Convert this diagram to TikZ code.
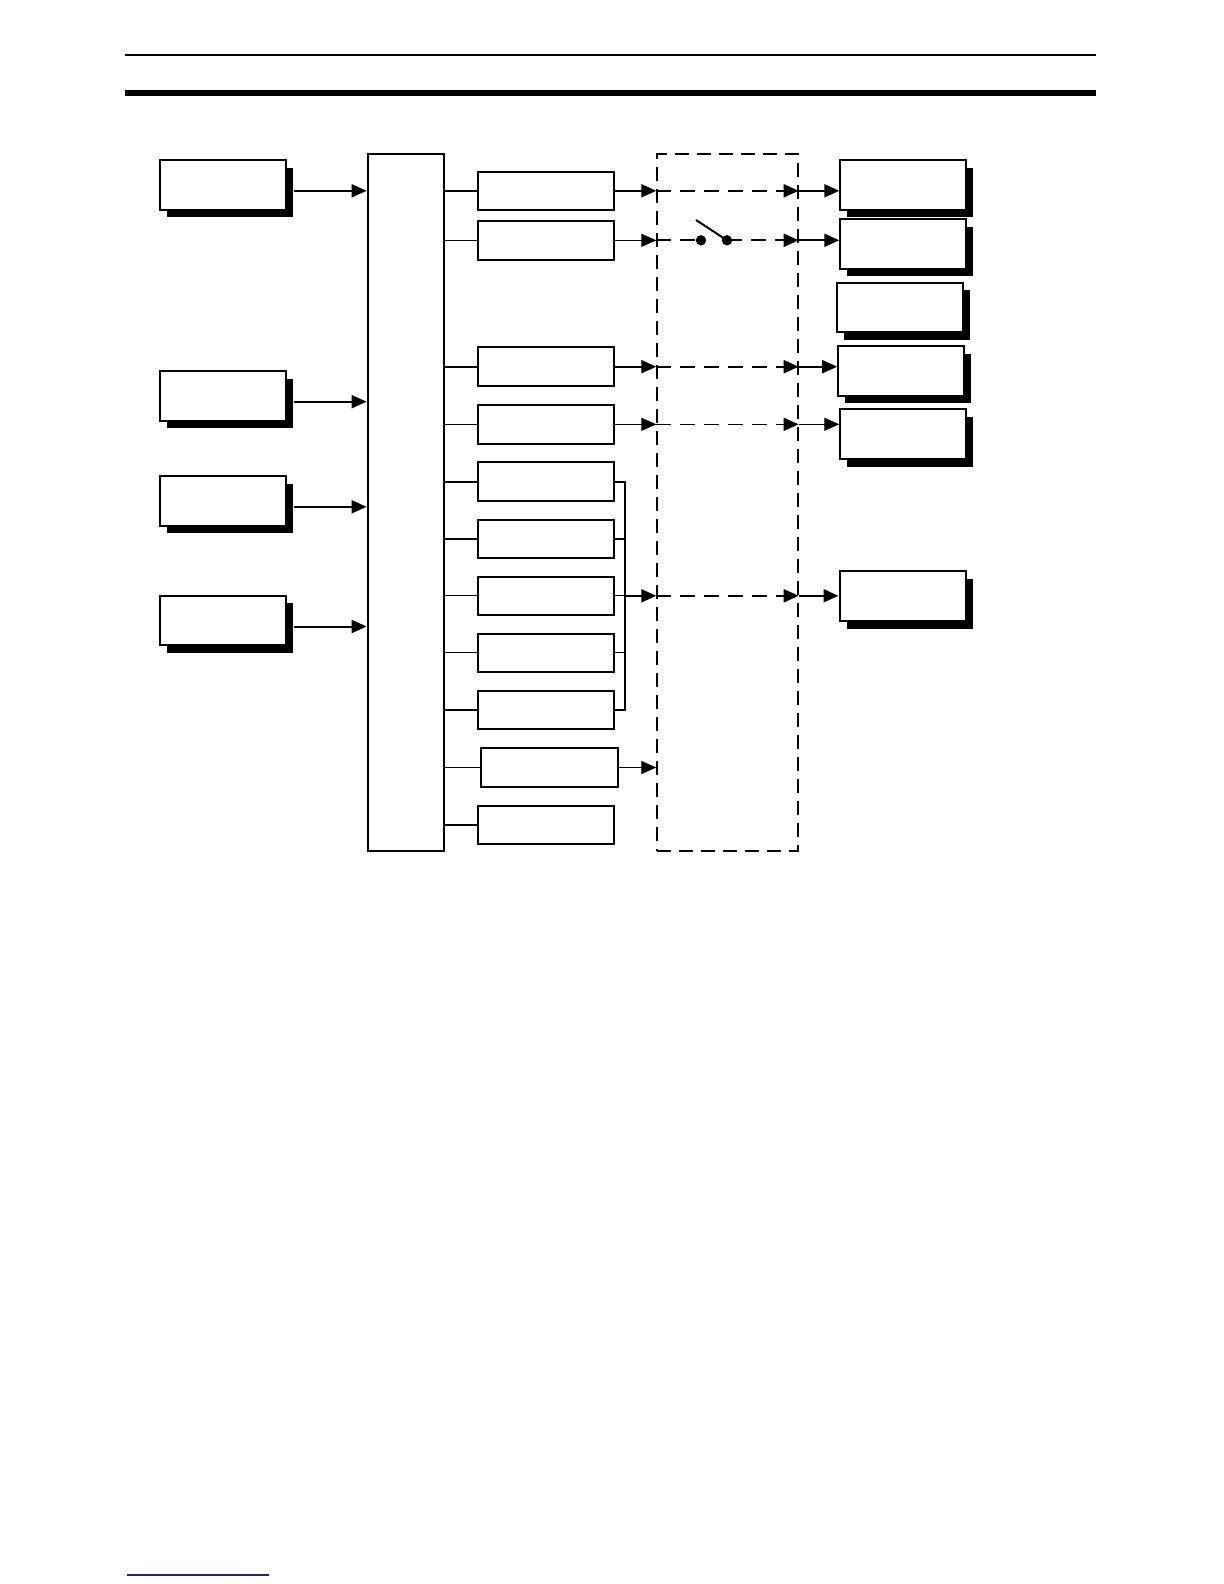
\documentclass[tikz,border=0pt]{standalone}
\usetikzlibrary{arrows.meta,shadows,calc}

\definecolor{rulebl}{RGB}{35,35,140}

\tikzstyle{shadowbox} = [rectangle, draw, fill=white, line width=1pt, inner sep=0pt, minimum width=63pt, minimum height=24.8pt, drop shadow={shadow xshift=3.5pt, shadow yshift=-3.8pt, fill=black, opacity=1}]
\tikzstyle{unit} = [rectangle, draw, line width=1pt, inner sep=0pt, minimum width=68.2pt, minimum height=19.3pt]
\tikzstyle{busbar} = [rectangle, draw, line width=1pt, inner sep=0pt, minimum width=38.2pt, minimum height=348.2pt]
\tikzstyle{isolbox} = [rectangle, draw, line width=1pt, dash pattern=on 7pt off 4pt, inner sep=0pt, minimum width=70.2pt, minimum height=348.2pt]
\tikzstyle{wire} = [line width=1pt]
\tikzstyle{thinwire} = [line width=0.6pt]
\tikzstyle{dashlink} = [dash pattern=on 7.5pt off 4.5pt]

\begin{document}
\begin{tikzpicture}[x=0.5pt, y=-0.5pt]
        \tikzset{>={Triangle[length=7.5pt,width=6.5pt]}}
        \useasboundingbox (0,0) rectangle (1224,1584);
        % page rules
        \draw[line width=1pt] (125,55) -- (1096,55);
        \draw[line width=2.9pt] (125,93) -- (1096,93);
        \draw[rulebl, line width=0.8pt] (127,1575) -- (269,1575);

        % inputs
        \node (l1) at (222.5,184.8) [shadowbox] {};
        \node (l2) at (222.5,395.7) [shadowbox] {};
        \node (l3) at (222.5,500.8) [shadowbox] {};
        \node (l4) at (222.5,620.5) [shadowbox] {};

        % bus
        \node (bus) at (405.8,502.5) [busbar] {};

        % units on the bus
        \node (m1) at (545.8,190.8) [unit] {};
        \node (m2) at (545.8,240.3) [unit] {};
        \node (m3) at (545.8,366.7) [unit] {};
        \node (m4) at (545.8,424.3) [unit] {};
        \node (m5) at (545.8,481.7) [unit] {};
        \node (m6) at (545.8,538.8) [unit] {};
        \node (m7) at (545.8,595.8) [unit] {};
        \node (m8) at (545.8,652.8) [unit] {};
        \node (m9) at (545.8,710.0) [unit] {};
        \node (m10) at (549.5,767.5) [unit] {};
        \node (m11) at (545.8,825.0) [unit] {};

        % isolation area
        \node (isol) at (727.5,502.5) [isolbox] {};

        % outputs
        \node (r1) at (903.3,184.7) [shadowbox] {};
        \node (r2) at (903.3,244.0) [shadowbox] {};
        \node (r3) at (900.3,307.3) [shadowbox] {};
        \node (r4) at (901.2,370.8) [shadowbox] {};
        \node (r5) at (903.3,434.2) [shadowbox] {};
        \node (r6) at (902.5,596.2) [shadowbox] {};

        % inputs to bus
        \coordinate (l1o) at ($(l1.east)+(3.5pt,-3pt)$);
        \coordinate (l2o) at ($(l2.east)+(3.5pt,-3pt)$);
        \coordinate (l3o) at ($(l3.east)+(3.5pt,-3pt)$);
        \coordinate (l4o) at ($(l4.east)+(3.5pt,-3pt)$);
        \draw[wire,->] (l1o) -- (l1o -| bus.west);
        \draw[wire,->] (l2o) -- (l2o -| bus.west);
        \draw[wire,->] (l3o) -- (l3o -| bus.west);
        \draw[wire,->] (l4o) -- (l4o -| bus.west);

        % bus taps
        \draw[wire] (m1.west -| bus.east) -- (m1.west);
        \draw[thinwire] (m2.west -| bus.east) -- (m2.west);
        \draw[wire] (m3.west -| bus.east) -- (m3.west);
        \draw[thinwire] (m4.west -| bus.east) -- (m4.west);
        \draw[wire] (m5.west -| bus.east) -- (m5.west);
        \draw[wire] (m6.west -| bus.east) -- (m6.west);
        \draw[thinwire] (m7.west -| bus.east) -- (m7.west);
        \draw[thinwire] (m8.west -| bus.east) -- (m8.west);
        \draw[wire] (m9.west -| bus.east) -- (m9.west);
        \draw[thinwire] (m10.west -| bus.east) -- (m10.west);
        \draw[wire] (m11.west -| bus.east) -- (m11.west);

        % row 1
        \draw[wire,->] (m1.east) -- (m1.east -| isol.west);
        \draw[wire,dashlink,->] (m1.east -| isol.west) -- (m1.east -| isol.east);
        \draw[wire,->] (m1.east -| isol.east) -- (m1.east -| r1.west);

        % row 2 with the switch
        \coordinate (swa) at (701,240.3);
        \coordinate (swb) at (727,240.3);
        \coordinate (swl) at (696,220);
        \draw[thinwire,->] (m2.east) -- (m2.east -| isol.west);
        \draw[wire,dashlink] (m2.east -| isol.west) -- (swa);
        \draw[wire,dashlink,->] (swb) -- (m2.east -| isol.east);
        \draw[wire,->] (m2.east -| isol.east) -- (m2.east -| r2.west);
        \draw[wire] (swl) -- (swb);
        \fill (swa) circle (2.6pt);
        \fill (swb) circle (2.6pt);

        % rows 3 and 4
        \draw[wire,->] (m3.east) -- (m3.east -| isol.west);
        \draw[wire,dashlink,->] (m3.east -| isol.west) -- (m3.east -| isol.east);
        \draw[wire,->] (m3.east -| isol.east) -- (m3.east -| r4.west);
        \draw[thinwire,->] (m4.east) -- (m4.east -| isol.west);
        \draw[thinwire,dashlink,->] (m4.east -| isol.west) -- (m4.east -| isol.east);
        \draw[thinwire,->] (m4.east -| isol.east) -- (m4.east -| r5.west);

        % grouped units
        \coordinate (brk) at (625,0);
        \draw[wire] (m5.east) -- (m5.east -| brk) -- (m9.east -| brk) -- (m9.east);
        \draw[wire] (m6.east) -- (m6.east -| brk);
        \draw[thinwire] (m7.east) -- (m7.east -| brk);
        \draw[thinwire] (m8.east) -- (m8.east -| brk);
        \draw[wire,->] (m7.east -| brk) -- (m7.east -| isol.west);
        \draw[wire,dashlink,->] (m7.east -| isol.west) -- (m7.east -| isol.east);
        \draw[wire,->] (m7.east -| isol.east) -- (m7.east -| r6.west);

        % row 10
        \draw[thinwire,->] (m10.east) -- (m10.east -| isol.west);
\end{tikzpicture}
\end{document}
